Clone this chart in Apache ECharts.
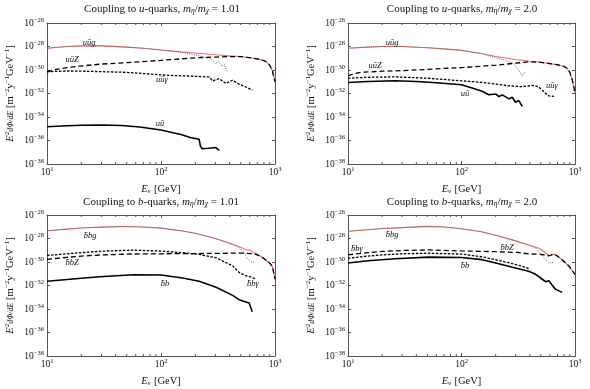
<!DOCTYPE html>
<html><head><meta charset="utf-8">
<script src="https://cdn.jsdelivr.net/npm/echarts@6/dist/echarts.min.js"></script>
<style>html,body{margin:0;padding:0;background:#fff}#c{width:590px;height:389px}</style>
</head><body><div id="c"></div>
<script>
// ---- Panel 1: u-quarks, m_eta/m_chi = 1.01 ----
const p1_tot_E = [10, 15, 20, 30, 50, 70, 100, 150, 200, 300, 400, 500, 600, 700, 800, 850, 900, 950, 1000];
const p1_tot_F = [7.1e-29, 1.0e-28, 1.12e-28, 1.12e-28, 8.9e-29, 7.1e-29, 5.0e-29, 3.5e-29, 2.8e-29, 2.0e-29, 1.6e-29, 1.4e-29, 1.12e-29, 8.9e-30, 6.3e-30, 4.5e-30, 2.5e-30, 7.9e-31, 1.0e-31];
const p1_g_E = [10, 15, 20, 30, 50, 70, 100, 150, 200, 250, 280, 300, 320, 340, 360, 380];
const p1_g_F = [7.1e-29, 1.0e-28, 1.12e-28, 1.12e-28, 8.9e-29, 7.1e-29, 5.0e-29, 3.2e-29, 2.0e-29, 1.12e-29, 7.1e-30, 3.5e-30, 5.6e-30, 2.2e-30, 3.2e-30, 7.1e-31];
const p1_Z_E = [10, 12, 15, 20, 30, 50, 70, 100, 150, 200, 300, 400, 500, 600, 700, 800, 850, 900, 950, 1000];
const p1_Z_F = [7.1e-31, 1.12e-30, 1.6e-30, 2.2e-30, 3.2e-30, 4.2e-30, 5.2e-30, 6.6e-30, 8.9e-30, 1.1e-29, 1.26e-29, 1.4e-29, 1.35e-29, 1.12e-29, 8.9e-30, 6.3e-30, 4.5e-30, 2.5e-30, 7.9e-31, 1.0e-31];
const p1_a_E = [10, 15, 20, 30, 50, 70, 100, 150, 200, 265, 283, 324, 370, 424, 484, 554, 634];
const p1_a_F = [7.2e-31, 8.3e-31, 8.0e-31, 7.2e-31, 6.3e-31, 5.0e-31, 3.8e-31, 3.2e-31, 2.9e-31, 2.5e-31, 1.17e-31, 1.86e-31, 7.1e-32, 1.35e-31, 6.3e-32, 3.6e-32, 1.9e-32];
const p1_q_E = [10, 15, 20, 30, 45, 65, 100, 127, 150, 180, 216, 222, 230, 260, 303, 325];
const p1_q_F = [1.5e-35, 1.78e-35, 2.0e-35, 2.1e-35, 1.9e-35, 1.41e-35, 7.9e-36, 4.5e-36, 3.2e-36, 1.78e-36, 1.26e-36, 3.2e-37, 2.0e-37, 2.2e-37, 2.5e-37, 1.41e-37];

// ---- Panel 2: u-quarks, m_eta/m_chi = 2.0 ----
const p2_tot_E = [10, 15, 20, 30, 50, 70, 100, 150, 200, 300, 400, 500, 600, 700, 800, 850, 900, 950, 1000];
const p2_tot_F = [7.1e-29, 8.9e-29, 1.0e-28, 1.0e-28, 7.9e-29, 6.3e-29, 4.7e-29, 2.5e-29, 1.41e-29, 7.9e-30, 5.6e-30, 4.5e-30, 3.5e-30, 2.8e-30, 2.0e-30, 1.41e-30, 6.3e-31, 1.26e-31, 1.12e-32];
const p2_g_E = [10, 15, 20, 30, 50, 70, 100, 150, 200, 240, 262, 285, 300, 320, 343, 367];
const p2_g_F = [7.1e-29, 8.9e-29, 1.0e-28, 1.0e-28, 7.9e-29, 6.3e-29, 4.7e-29, 2.4e-29, 1.12e-29, 7.1e-30, 5.0e-30, 3.5e-30, 2.2e-30, 8.9e-31, 3.2e-31, 7.9e-31];
const p2_Z_E = [10, 11, 13, 20, 30, 50, 70, 100, 150, 200, 300, 400, 500, 600, 700, 800, 850, 900, 950, 1000];
const p2_Z_F = [3.2e-31, 4.5e-31, 6.3e-31, 7.9e-31, 8.9e-31, 1.12e-30, 1.35e-30, 1.58e-30, 2.1e-30, 2.6e-30, 3.8e-30, 5.0e-30, 4.5e-30, 3.5e-30, 2.8e-30, 2.0e-30, 1.41e-30, 6.3e-31, 1.26e-31, 1.12e-32];
const p2_a_E = [10, 15, 26, 50, 100, 150, 200, 260, 340, 437, 480, 515, 551, 589, 653];
const p2_a_F = [2.0e-31, 2.4e-31, 2.6e-31, 2.0e-31, 1.2e-31, 8.9e-32, 6.3e-32, 4.5e-32, 3.8e-32, 5.0e-32, 3.5e-32, 1.9e-32, 1.0e-32, 6.3e-33, 5.6e-33];
const p2_q_E = [10, 15, 26, 40, 60, 100, 124, 152, 174, 200, 213, 229, 262, 280, 299, 320, 343];
const p2_q_F = [8.7e-32, 1.05e-31, 1.2e-31, 1.05e-31, 8.3e-32, 5.6e-32, 2.95e-32, 1.55e-32, 7.9e-33, 9.1e-33, 5.5e-33, 7.6e-33, 3.5e-33, 4.8e-33, 1.8e-33, 2.5e-33, 7.9e-34];

// ---- Panel 3: b-quarks, m_eta/m_chi = 1.01 ----
const p3_tot_E = [10, 15, 20, 30, 50, 70, 100, 150, 200, 300, 400, 500, 560, 600, 650, 700, 800, 900, 950, 1000];
const p3_tot_F = [4.6e-28, 6.3e-28, 7.9e-28, 9.3e-28, 1.05e-27, 9.5e-28, 7.6e-28, 4.5e-28, 2.8e-28, 1.0e-28, 4.0e-29, 1.78e-29, 1.12e-29, 1.0e-29, 6.3e-30, 4.5e-30, 2.0e-30, 7.9e-31, 4.0e-31, 3.5e-32];
const p3_g_E = [10, 15, 20, 30, 50, 70, 100, 150, 200, 300, 400, 480, 520, 555, 590, 630, 660];
const p3_g_F = [4.6e-28, 6.3e-28, 7.9e-28, 9.3e-28, 1.05e-27, 9.5e-28, 7.6e-28, 4.5e-28, 2.8e-28, 1.0e-28, 4.0e-29, 1.78e-29, 1.0e-29, 3.2e-30, 1.41e-30, 8.9e-31, 1.0e-30];
const p3_Z_E = [10, 15, 20, 30, 56, 100, 200, 400, 550, 650, 700, 800, 900, 950, 1000];
const p3_Z_F = [1.7e-30, 2.5e-30, 3.2e-30, 4.0e-30, 4.8e-30, 5.0e-30, 5.2e-30, 5.6e-30, 5.6e-30, 5.0e-30, 4.0e-30, 2.0e-30, 7.9e-31, 4.0e-31, 3.5e-32];
const p3_a_E = [10, 15, 20, 30, 56, 100, 150, 216, 304, 425, 485, 555, 632, 676];
const p3_a_F = [3.6e-30, 5.0e-30, 6.3e-30, 8.3e-30, 1.02e-29, 8.5e-30, 6.3e-30, 4.5e-30, 2.3e-30, 4.7e-31, 1.29e-31, 6.8e-32, 4.9e-32, 3.5e-32];
const p3_q_E = [10, 15, 20, 29, 57, 100, 155, 216, 304, 425, 485, 555, 593, 632];
const p3_q_F = [2.3e-32, 3.2e-32, 4.2e-32, 5.6e-32, 8.3e-32, 7.8e-32, 4.4e-32, 2.3e-32, 7.1e-33, 1.45e-33, 6.2e-34, 4.0e-34, 3.2e-34, 5.8e-35];

// ---- Panel 4: b-quarks, m_eta/m_chi = 2.0 ----
const p4_tot_E = [10, 15, 20, 30, 50, 70, 100, 150, 200, 300, 390, 480, 540, 589, 653, 700, 770, 885, 1000];
const p4_tot_F = [4.1e-28, 5.6e-28, 7.1e-28, 8.5e-28, 1.07e-27, 9.5e-28, 6.8e-28, 3.8e-28, 1.9e-28, 6.3e-29, 2.75e-29, 1.48e-29, 7.1e-30, 3.4e-30, 4.7e-30, 3.2e-30, 1.55e-30, 4.4e-31, 8.7e-32];
const p4_g_E = [10, 15, 20, 30, 50, 70, 100, 150, 200, 300, 390, 450, 515, 560, 589, 630, 660];
const p4_g_F = [4.1e-28, 5.6e-28, 7.1e-28, 8.5e-28, 1.07e-27, 9.5e-28, 6.8e-28, 3.8e-28, 1.9e-28, 6.3e-29, 2.75e-29, 1.58e-29, 3.2e-30, 1.41e-30, 8.3e-31, 8.9e-31, 9.5e-31];
const p4_Z_E = [10, 15, 20, 30, 51, 100, 200, 311, 390, 450, 520, 589, 653, 700, 770, 885, 1000];
const p4_Z_F = [4.1e-30, 6.3e-30, 7.9e-30, 9.5e-30, 1.07e-29, 8.7e-30, 7.6e-30, 6.5e-30, 4.9e-30, 4.7e-30, 4.2e-30, 3.4e-30, 4.7e-30, 3.2e-30, 1.55e-30, 4.4e-31, 8.7e-32];
const p4_a_E = [10, 15, 20, 30, 51, 100, 150, 200, 270, 343, 390];
const p4_a_F = [2.1e-30, 3.2e-30, 4.0e-30, 5.0e-30, 5.6e-30, 4.7e-30, 2.8e-30, 1.55e-30, 7.9e-31, 4.4e-31, 2.75e-31];
const p4_q_E = [10, 15, 26, 51, 100, 152, 200, 281, 390, 450, 515, 551, 589, 620, 670, 720, 770];
const p4_q_F = [8.3e-31, 1.26e-30, 1.9e-30, 2.6e-30, 2.45e-30, 1.58e-30, 8.3e-31, 3.6e-31, 1.66e-31, 8.9e-32, 3.4e-32, 2.1e-32, 2.5e-32, 1.26e-32, 5.0e-33, 3.5e-33, 2.6e-33];

// axis ranges / ticks (y axis works in decades: exponent of 10)
const xMin = 10, xMax = 1000;
const yMinExp = -38, yMaxExp = -26, yStepExp = 2;
const xMinorTicks = [20, 30, 40, 50, 60, 70, 80, 90, 200, 300, 400, 500, 600, 700, 800, 900];

const titles = [
  ['u', '1.01'], ['u', '2.0'], ['b', '1.01'], ['b', '2.0']
];

const panels = [
  {tot:[p1_tot_E,p1_tot_F], g:[p1_g_E,p1_g_F], Z:[p1_Z_E,p1_Z_F], a:[p1_a_E,p1_a_F], q:[p1_q_E,p1_q_F]},
  {tot:[p2_tot_E,p2_tot_F], g:[p2_g_E,p2_g_F], Z:[p2_Z_E,p2_Z_F], a:[p2_a_E,p2_a_F], q:[p2_q_E,p2_q_F]},
  {tot:[p3_tot_E,p3_tot_F], g:[p3_g_E,p3_g_F], Z:[p3_Z_E,p3_Z_F], a:[p3_a_E,p3_a_F], q:[p3_q_E,p3_q_F]},
  {tot:[p4_tot_E,p4_tot_F], g:[p4_g_E,p4_g_F], Z:[p4_Z_E,p4_Z_F], a:[p4_a_E,p4_a_F], q:[p4_q_E,p4_q_F]}
];

const SERIF = '"Liberation Serif", "DejaVu Serif", serif';
const AX = '#555';
const grids = [
  {left: 47, top: 23, width: 228, height: 141},
  {left: 348, top: 23, width: 227, height: 141},
  {left: 47, top: 215, width: 228, height: 141},
  {left: 348, top: 215, width: 227, height: 141}
];

// ECharts' log scale rounds values below 1e-10 to zero, so the y axis is a
// linear axis over log10(flux); values are converted at plotting time.
function pairs(E, F) { return E.map((e, i) => [e, Math.log10(F[i])]); }
function sup(n) { return String(n).replace('-', '\u2212'); }
const richTick = {
  b: {fontFamily: SERIF, fontSize: 9.5, color: '#111', lineHeight: 13},
  s: {fontFamily: SERIF, fontSize: 6.5, color: '#111', verticalAlign: 'top', lineHeight: 13}
};

const xAxes = [], yAxes = [], series = [];
grids.forEach((g, i) => {
  xAxes.push({
    type: 'log', logBase: 10, gridIndex: i, min: xMin, max: xMax, position: 'bottom',
    axisLine: {show: true, lineStyle: {color: AX, width: 1}},
    axisTick: {show: true, inside: true, length: 3, lineStyle: {color: AX}},
    splitLine: {show: false},
    axisLabel: {margin: 2, formatter: v => '{b|10}{s|' + sup(Math.round(Math.log10(v))) + '}', rich: richTick},
    name: '{i|E}{sb|\u03bd} {n|[GeV]}', nameLocation: 'middle', nameGap: 19,
    nameTextStyle: {rich: {
      i: {fontFamily: SERIF, fontStyle: 'italic', fontSize: 10.5, color: '#111'},
      sb: {fontFamily: SERIF, fontStyle: 'italic', fontSize: 7, color: '#111', verticalAlign: 'bottom'},
      n: {fontFamily: SERIF, fontSize: 10.5, color: '#111'}
    }}
  });
  xAxes.push({
    type: 'log', logBase: 10, gridIndex: i, min: xMin, max: xMax, position: 'top',
    axisLine: {show: true, lineStyle: {color: AX, width: 1}},
    axisTick: {show: true, inside: true, length: 3, lineStyle: {color: AX}},
    axisLabel: {show: false}, splitLine: {show: false}
  });
  yAxes.push({
    type: 'value', gridIndex: i, min: yMinExp, max: yMaxExp, interval: yStepExp, position: 'left',
    axisLine: {show: true, lineStyle: {color: AX, width: 1}},
    axisTick: {show: true, inside: true, length: 3, lineStyle: {color: AX}},
    splitLine: {show: false},
    axisLabel: {margin: 3, formatter: v => '{b|10}{s|' + sup(v) + '}', rich: richTick},
    name: '{i|E}{s|2}{f|d\u03a6/dE}{n| [m}{s|\u22122}{n|y}{s|\u22121}{n|GeV}{s|\u22121}{n|]}',
    nameLocation: 'middle', nameRotate: 90, nameGap: 30,
    nameTextStyle: {rich: {
      i: {fontFamily: SERIF, fontStyle: 'italic', fontSize: 10.5, color: '#111', lineHeight: 13},
      f: {fontFamily: SERIF, fontStyle: 'italic', fontSize: 8, color: '#111', lineHeight: 13},
      s: {fontFamily: SERIF, fontSize: 7, color: '#111', verticalAlign: 'top', lineHeight: 13},
      n: {fontFamily: SERIF, fontSize: 10.5, color: '#111', lineHeight: 13}
    }}
  });
  yAxes.push({
    type: 'value', gridIndex: i, min: yMinExp, max: yMaxExp, interval: yStepExp, position: 'right',
    axisLine: {show: true, lineStyle: {color: AX, width: 1}},
    axisTick: {show: true, inside: true, length: 3, lineStyle: {color: AX}},
    axisLabel: {show: false}, splitLine: {show: false}
  });
  const P = panels[i];
  const base = {type: 'line', xAxisIndex: 2*i, yAxisIndex: 2*i, symbol: 'none', silent: true, animation: false};
  series.push(Object.assign({}, base, {data: pairs(P.tot[0], P.tot[1]), lineStyle: {color: '#ee6b6b', width: 1.1}, z: 2}));
  series.push(Object.assign({}, base, {data: pairs(P.g[0], P.g[1]), lineStyle: {color: '#6a6a6a', width: 1, type: [1, 1.3]}, z: 3}));
  series.push(Object.assign({}, base, {data: pairs(P.Z[0], P.Z[1]), lineStyle: {color: '#000', width: 1.3, type: [5, 3]}, z: 4}));
  series.push(Object.assign({}, base, {data: pairs(P.a[0], P.a[1]), lineStyle: {color: '#000', width: 1.3, type: [2.5, 1.5]}, z: 4}));
  series.push(Object.assign({}, base, {data: pairs(P.q[0], P.q[1]), lineStyle: {color: '#000', width: 1.6}, z: 5}));
  // minor ticks on x axes (drawn through the axis scales)
  series.push({
    type: 'custom', xAxisIndex: 2*i, yAxisIndex: 2*i, silent: true, animation: false, z: 6,
    data: xMinorTicks.map(v => [v, yMinExp]),
    renderItem: (params, api) => {
      const p = api.coord([api.value(0), yMinExp]);
      const q = api.coord([api.value(0), yMaxExp]);
      return {type: 'group', children: [
        {type: 'line', shape: {x1: p[0], y1: p[1], x2: p[0], y2: p[1] - 2}, style: {stroke: AX, lineWidth: 1}},
        {type: 'line', shape: {x1: q[0], y1: q[1], x2: q[0], y2: q[1] + 2}, style: {stroke: AX, lineWidth: 1}}
      ]};
    }
  });
});

// titles and curve labels
const labStyle = {fontFamily: SERIF, fontStyle: 'italic', fontSize: 8.5, fill: '#111'};
const graphic = [];
const titlePos = [[162, 9], [462, 9], [161, 202], [462, 202]];
titles.forEach((t, i) => {
  graphic.push({
    type: 'text', x: titlePos[i][0], y: titlePos[i][1],
    style: {
      text: '{n|Coupling to }{i|' + t[0] + '}{n|-quarks, }{i|m}{sb|\u03b7}{n|/}{i|m}{sb|\u03c7}{n| = ' + t[1] + '}',
      align: 'center', verticalAlign: 'middle',
      rich: {
        n: {fontFamily: SERIF, fontSize: 11, fill: '#111', lineHeight: 13},
        i: {fontFamily: SERIF, fontSize: 11, fill: '#111', fontStyle: 'italic', lineHeight: 13},
        sb: {fontFamily: SERIF, fontSize: 7.5, fill: '#111', fontStyle: 'italic', verticalAlign: 'bottom', lineHeight: 13}
      }
    }
  });
});
const ub = 'u\u016b', bb = 'b\u0304b';
const curveLabels = [
  [ub + 'g', 89, 43], [ub + 'Z', 72, 60], [ub + '\u03b3', 162, 80], [ub, 160, 124],
  [ub + 'g', 392, 43], [ub + 'Z', 375, 66], [ub + '\u03b3', 552, 86], [ub, 465, 94],
  [bb + 'g', 90, 236], [bb + 'Z', 72, 263], [bb + '\u03b3', 253, 284], [bb, 165, 284],
  [bb + 'g', 392, 235], [bb + '\u03b3', 357, 249], [bb + 'Z', 507, 248], [bb, 465, 266]
];
curveLabels.forEach(c => {
  graphic.push({type: 'text', x: c[1], y: c[2], z: 10, style: Object.assign({text: c[0], align: 'center', verticalAlign: 'middle'}, labStyle)});
});

const chart = echarts.init(document.getElementById('c'), null, {renderer: 'canvas'});
chart.setOption({
  animation: false,
  backgroundColor: '#fff',
  grid: grids,
  xAxis: xAxes,
  yAxis: yAxes,
  series: series,
  graphic: graphic
});
</script>
</body></html>
